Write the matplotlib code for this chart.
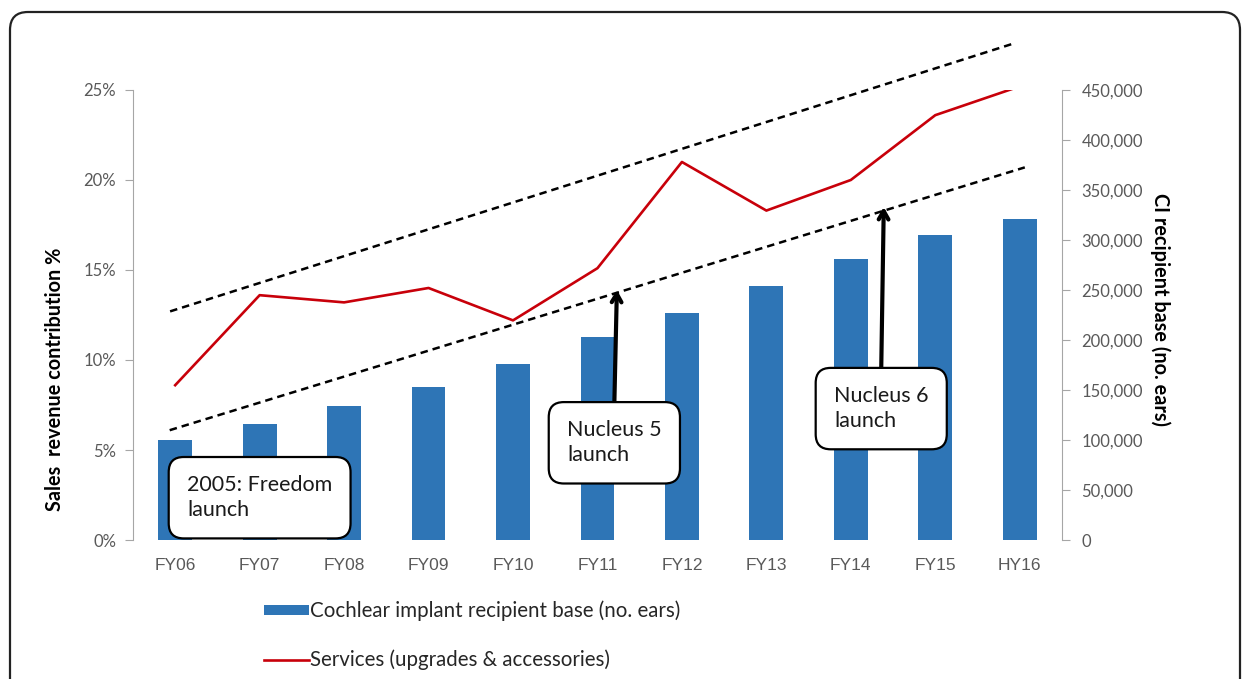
import matplotlib.pyplot as plt
from matplotlib import font_manager
from matplotlib.patches import FancyBboxPatch
from matplotlib.ticker import FuncFormatter, MultipleLocator

years = ['FY06', 'FY07', 'FY08', 'FY09', 'FY10', 'FY11', 'FY12', 'FY13', 'FY14', 'FY15', 'HY16']
recipient_base = [100000, 116000, 134000, 153000, 176000, 203000, 227000, 254000, 281000, 305000, 321000]
services_pct = [8.6, 13.6, 13.2, 14.0, 12.2, 15.1, 21.0, 18.3, 20.0, 23.6, 25.2]

# hand-drawn trend channel (x in category units, y in %)
upper_x = [-0.06, 9.94]
upper_y = [12.7, 27.6]
lower_x = [-0.065, 10.06]
lower_y = [6.1, 20.7]

# launch callouts: text, box centre, arrow base/tip
callouts = [
    ('2005: Freedom\nlaunch', (1.0, 2.35), None),
    ('Nucleus 5\nlaunch', (5.2, 5.4), ((5.2, 7.6), (5.23, 13.9))),
    ('Nucleus 6\nlaunch', (8.36, 7.3), ((8.36, 9.5), (8.39, 18.5))),
]

installed = {f.name for f in font_manager.fontManager.ttflist}
narrow = 'Liberation Sans Narrow' if 'Liberation Sans Narrow' in installed else 'Liberation Sans'
plt.rcParams['font.family'] = ['Lato', 'DejaVu Sans']

BLUE = '#2E75B6'
RED = '#C8000A'
GREY = '#595959'
AXIS = '#A6A6A6'

fig = plt.figure(figsize=(12.46, 6.79), dpi=100)
ax = fig.add_axes([0.1067, 0.2047, 0.7456, 0.6628])
ax2 = ax.twinx()
ax.set_zorder(ax2.get_zorder() + 1)
ax.patch.set_visible(False)

x = range(len(years))
bars = ax2.bar(x, recipient_base, width=0.4, color=BLUE, label='Cochlear implant recipient base (no. ears)')
line, = ax.plot(x, services_pct, color=RED, lw=1.9, label='Services (upgrades & accessories)')

ax.plot(upper_x, upper_y, color='black', lw=1.8, dashes=(3, 2), clip_on=False)
ax.plot(lower_x, lower_y, color='black', lw=1.8, dashes=(3, 2), clip_on=False)

ax.set_xlim(-0.5, len(years) - 0.5)
ax.set_ylim(0, 25)
ax2.set_ylim(0, 450000)
ax.yaxis.set_major_locator(MultipleLocator(5))
ax2.yaxis.set_major_locator(MultipleLocator(50000))
ax.yaxis.set_major_formatter(FuncFormatter(lambda v, p: f'{v:.0f}%'))
ax2.yaxis.set_major_formatter(FuncFormatter(lambda v, p: f'{v:,.0f}'))

ax.set_xticks(list(x))
ax.set_xticklabels(years, fontfamily=narrow, fontsize=12.5, color=GREY)
ax.tick_params(axis='x', length=0, pad=13)
ax.tick_params(axis='y', colors=AXIS, labelcolor=GREY, labelsize=12, length=6, pad=6)
ax2.tick_params(axis='y', colors=AXIS, labelcolor=GREY, labelsize=12, length=6, pad=8)

for a in (ax, ax2):
    for side in ('top', 'bottom'):
        a.spines[side].set_visible(False)
ax2.spines['left'].set_visible(False)
ax.spines['right'].set_visible(False)
ax.spines['left'].set_color(AXIS)
ax2.spines['right'].set_color(AXIS)

fig.text(55 / 1246, 1 - 379 / 679, 'Sales  revenue contribution %', rotation=90,
         ha='center', va='center', fontsize=14.3, fontweight='bold')
fig.text(1160 / 1246, 1 - 310 / 679, 'CI recipient base (no. ears)', rotation=270,
         ha='center', va='center', fontsize=14.3, fontweight='bold')

for text, (cx, cy), arrow in callouts:
    if arrow is not None:
        (bx, by), (tx, ty) = arrow
        ax.annotate('', xy=(tx, ty), xytext=(bx, by),
                    arrowprops=dict(arrowstyle='->,head_length=0.6,head_width=0.35',
                                    lw=3, color='black', shrinkA=0, shrinkB=0))
    ax.text(cx, cy, text, ha='center', va='center', multialignment='left',
            fontsize=15.5, color='#1a1a1a', zorder=5, linespacing=1.3,
            bbox=dict(boxstyle='round,pad=0.85,rounding_size=0.7', fc='white',
                      ec='black', lw=1.6))

fig.legend(handles=[bars, line], loc='upper left', bbox_to_anchor=(245 / 1246, 1 - 582 / 679),
           frameon=False, fontsize=14.8, handlelength=2.2, handleheight=0.4,
           handletextpad=0.08, labelspacing=1.4, labelcolor='#262626')

# rounded outer frame, its bottom edge runs off the canvas
frame = FancyBboxPatch((0.10, -0.3), 12.30, 6.97, boxstyle='round,pad=0,rounding_size=0.18',
                       transform=fig.dpi_scale_trans, fc='none', ec='#222222', lw=1.6)
fig.patches.append(frame)

fig.savefig('out.png', dpi=100)
